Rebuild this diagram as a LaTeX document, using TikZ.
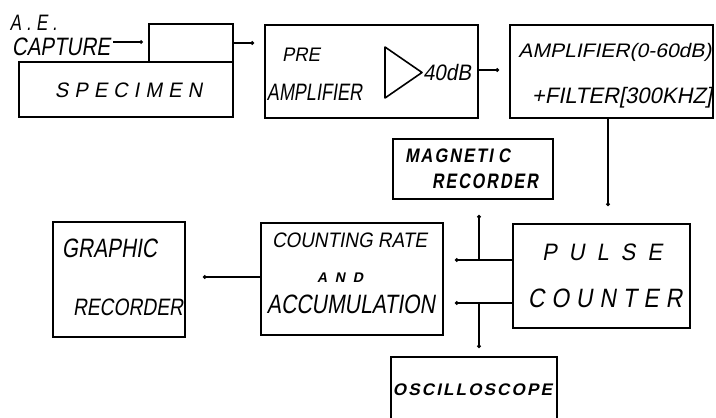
\documentclass[tikz,border=0pt]{standalone}
\usepackage{fontspec}
\usepackage{graphicx}
\usetikzlibrary{arrows.meta}
\newfontfamily\lettering{Liberation Sans}[FakeSlant=0.2]
% #1 width, #2 cap height, #3 text
\newcommand{\ltxt}[3]{\resizebox{#1pt}{\height}{\fontsize{\fpeval{#2*1.397}pt}{\fpeval{#2*1.6}pt}\lettering #3}}
\newcommand{\lsa}{\hspace{0.12em}}
\newcommand{\lsb}{\hspace{0.3em}}
\newcommand{\lsc}{\hspace{0.55em}}
\tikzset{
  blk/.style={draw, line width=2.4pt, inner sep=0pt, rectangle},
  lbl/.style={inner sep=0pt, anchor=base},
  conn/.style={line width=1.4pt, -{Circle[length=3.5pt]}},
}
\begin{document}
\begin{tikzpicture}[x=1pt, y=-1pt]
\useasboundingbox (0,0) rectangle (716,418);
% boxes
\node[blk, minimum width=84pt, minimum height=38pt] (capture) at (191,43) {};
\node[blk, minimum width=214pt, minimum height=55pt] (specimen) at (126,89.5) {};
\node[blk, minimum width=213pt, minimum height=93pt] (preamp) at (371.5,71.5) {};
\node[blk, minimum width=203pt, minimum height=93pt] (amp) at (611.5,71.5) {};
\node[blk, minimum width=160pt, minimum height=60pt] (magnetic) at (473,169) {};
\node[blk, minimum width=177pt, minimum height=104pt] (pulse) at (601.5,276) {};
\node[blk, minimum width=182pt, minimum height=112pt] (counting) at (352,279) {};
\node[blk, minimum width=132pt, minimum height=115pt] (graphic) at (119,279.5) {};
% oscilloscope box (cut off at the bottom)
\coordinate (oscTL) at (391,357);
\coordinate (oscTR) at (557,357);
\draw[line width=2.4pt] (391,420) -- (oscTL) -- (oscTR) -- (557,420);
% triangle
\draw[line width=1.6pt, line join=round] (385,47) -- (422,72.5) -- (385,98) -- cycle;
% texts (anchored on the baseline)
\node[lbl] (tae) at (33.5,30) {\ltxt{47}{16}{A\lsb.\lsb E\lsb.}};
\node[lbl] (tcap) at (61,55) {\ltxt{98}{18}{CAPTURE}};
\node[lbl] (tspec) at (128.5,97) {\ltxt{147}{15}{S\lsb P\lsb E\lsb C\lsb I\lsb M\lsb E\lsb N}};
\node[lbl] (tpre) at (301,61) {\ltxt{38}{14}{PRE}};
\node[lbl] (tamp1) at (314.5,100) {\ltxt{95}{17}{AMPLIFIER}};
\node[lbl] (t40) at (447,80) {\ltxt{48}{16}{40dB}};
\node[lbl] (tamp2) at (615,57) {\ltxt{193}{14}{AMPLIFIER(0-60dB)}};
\node[lbl] (tfil) at (622,103) {\ltxt{180}{16}{+FILTER[300KHZ]}};
\node[lbl] (tmag1) at (457.5,162) {\ltxt{105}{14}{\bfseries M\lsa A\lsa G\lsa N\lsa E\lsa T\lsa I\lsb C}};
\node[lbl] (tmag2) at (485,188) {\ltxt{106}{15}{\bfseries R\lsa E\lsa C\lsa O\lsa R\lsa D\lsa E\lsa R}};
\node[lbl] (tcnt1) at (349.5,247) {\ltxt{155}{15}{COUNTING RATE}};
\node[lbl] (tand) at (340,282) {\ltxt{46}{10}{\bfseries A\lsc N\lsc D}};
\node[lbl] (tcnt2) at (351,313) {\ltxt{168}{19}{ACCUMULATION}};
\node[lbl] (tpul1) at (602,260) {\ltxt{120}{17}{P\lsc U\lsc L\lsc S\lsc E}};
\node[lbl] (tpul2) at (605,307) {\ltxt{154}{19}{C\lsb O\lsb U\lsb N\lsb T\lsb E\lsb R}};
\node[lbl] (tgr1) at (109.5,257) {\ltxt{95}{19}{GRAPHIC}};
\node[lbl] (tgr2) at (128,315) {\ltxt{110}{17}{RECORDER}};
\node[lbl] (tosc) at (472.5,395) {\ltxt{159}{12}{\bfseries O\lsa S\lsa C\lsa I\lsa L\lsa L\lsa O\lsa S\lsa C\lsa O\lsa P\lsa E}};
% free ends and junctions
\coordinate (capout) at (254,43);
\coordinate (preout) at (499,70);
\coordinate (ampout) at (608,206);
\coordinate (p1) at (455,260);
\coordinate (p2) at (455,303);
\coordinate (j1) at (479,260);
\coordinate (j2) at (479,303);
\coordinate (magin) at (479,215);
\coordinate (oscin) at (479,348);
\coordinate (grin) at (203,277);
% connectors
\draw[conn] ([xshift=3pt]tcap.east |- 0,42) -- ([xshift=-5pt]capture.west |- 0,42);
\draw[conn] (capture.east) -- (capout);
\draw[conn] (preamp.east |- preout) -- (preout);
\draw[conn] (amp.south -| ampout) -- (ampout);
\draw[conn] (pulse.west |- p1) -- (p1);
\draw[conn] (pulse.west |- p2) -- (p2);
\draw[conn] (j1) -- (magin);
\draw[conn] (j2) -- (oscin);
\draw[conn] (counting.west |- grin) -- (grin);
\end{tikzpicture}
\end{document}
